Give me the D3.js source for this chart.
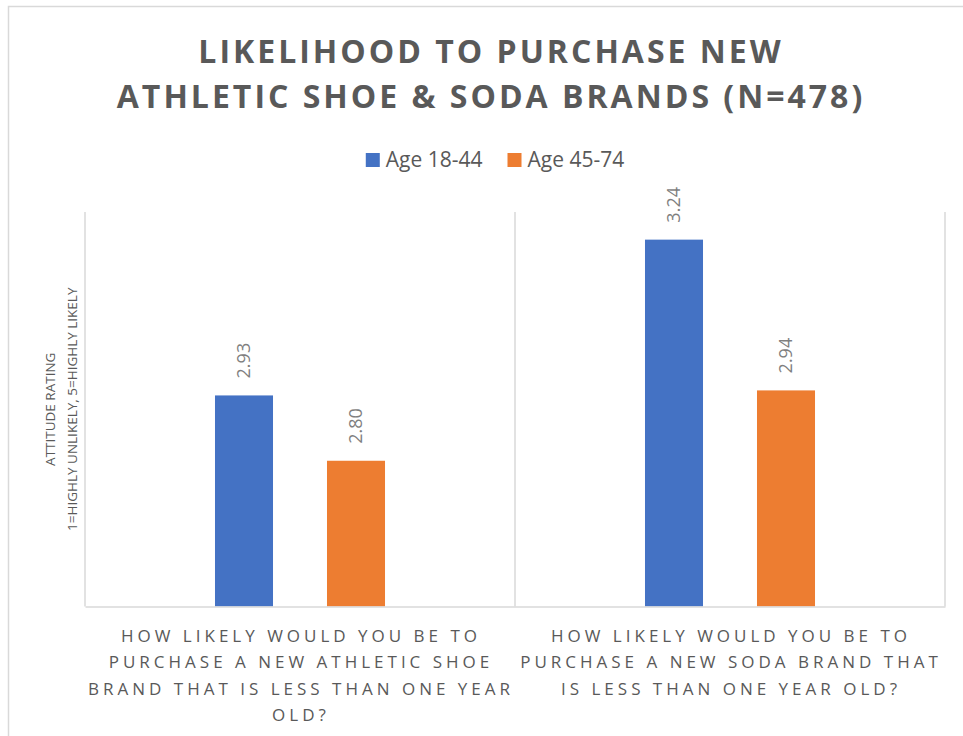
<!DOCTYPE html>
<html>
<head>
<meta charset="utf-8">
<script src="https://cdn.jsdelivr.net/npm/d3@7/dist/d3.min.js"></script>
<style>
  html, body { margin: 0; padding: 0; background: #ffffff; }
  svg { display: block; font-family: "Open Sans", "DejaVu Sans", sans-serif; }
</style>
</head>
<body>
<svg id="chart" width="963" height="736"></svg>
<script>
// ---- data ----
const titleLines = ["LIKELIHOOD TO PURCHASE NEW", "ATHLETIC SHOE & SODA BRANDS (N=478)"];
const seriesNames = ["Age 18-44", "Age 45-74"];
const seriesColors = ["#4472C4", "#ED7D31"];
const categories = [
  "How likely would you be to purchase a new athletic shoe brand that is less than one year old?",
  "How likely would you be to purchase a new soda brand that is less than one year old?"
];
const categoryLines = [
  ["HOW LIKELY WOULD YOU BE TO", "PURCHASE A NEW ATHLETIC SHOE", "BRAND THAT IS LESS THAN ONE YEAR", "OLD?"],
  ["HOW LIKELY WOULD YOU BE TO", "PURCHASE A NEW SODA BRAND THAT", "IS LESS THAN ONE YEAR OLD?"]
];
const age1844 = [2.93, 3.24];
const age4574 = [2.80, 2.94];
const yTitleLines = ["ATTITUDE RATING", "1=HIGHLY UNLIKELY, 5=HIGHLY LIKELY"];

// ---- layout ----
const svg = d3.select("#chart");
const plot = { left: 85, right: 945, top: 212, bottom: 606.5 };
const gridColor = "#d9d9d9";
const textDark = "#595959";

// chart frame
svg.append("rect")
  .attr("x", 8.5).attr("y", 6.5)
  .attr("width", 1100).attr("height", 900)
  .attr("fill", "#ffffff")
  .attr("stroke", gridColor).attr("stroke-width", 1.5);

// title
const title = svg.append("text")
  .attr("text-anchor", "middle")
  .attr("fill", textDark)
  .attr("font-weight", 700)
  .attr("font-size", 32)
  .attr("letter-spacing", 3);
title.selectAll("tspan").data(titleLines).join("tspan")
  .attr("x", 491)
  .attr("y", (d, i) => 62.5 + i * 45)
  .text(d => d);

// scales
const x = d3.scaleBand().domain(categories).range([plot.left, plot.right]);
const xInner = d3.scaleBand().domain(seriesNames)
  .range([x.bandwidth() * 0.3023, x.bandwidth() * 0.6977])
  .paddingInner(0.482);
const y = d3.scaleLinear().domain([2.51, 3.295]).range([plot.bottom, plot.top]);

const rows = categories.map((c, i) => ({
  category: c,
  values: [
    { series: seriesNames[0], value: age1844[i], color: seriesColors[0] },
    { series: seriesNames[1], value: age4574[i], color: seriesColors[1] }
  ]
}));

// vertical separators between categories
const sepX = categories.map(c => x(c)).concat([x.range()[1]]);
svg.append("g").selectAll("line").data(sepX).join("line")
  .attr("x1", d => d).attr("x2", d => d)
  .attr("y1", plot.top).attr("y2", plot.bottom)
  .attr("stroke", gridColor).attr("stroke-width", 1.5);

// bars
const groups = svg.append("g").selectAll("g").data(rows).join("g")
  .attr("transform", d => `translate(${x(d.category)},0)`);

groups.selectAll("rect").data(d => d.values).join("rect")
  .attr("x", d => xInner(d.series))
  .attr("width", xInner.bandwidth())
  .attr("y", d => y(d.value))
  .attr("height", d => y.range()[0] - y(d.value))
  .attr("fill", d => d.color);

// value labels (rotated)
groups.selectAll("text").data(d => d.values).join("text")
  .attr("transform", d => `translate(${xInner(d.series) + xInner.bandwidth() / 2},${y(d.value) - 17}) rotate(-90)`)
  .attr("dy", "0.35em")
  .attr("text-anchor", "start")
  .attr("font-size", 18)
  .attr("fill", "#7f7f7f")
  .text(d => d.value.toFixed(2));

// x axis
const xAxis = svg.append("g")
  .attr("transform", `translate(0,${plot.bottom})`)
  .call(d3.axisBottom(x).tickSize(0).tickPadding(0));
xAxis.select(".domain").attr("stroke", gridColor).attr("stroke-width", 1.5);
xAxis.selectAll(".tick text").remove();
xAxis.selectAll(".tick").each(function (d, i) {
  const t = d3.select(this).append("text")
    .attr("text-anchor", "middle")
    .attr("fill", textDark)
    .attr("font-size", 17)
    .attr("letter-spacing", 4)
    .attr("font-family", "'Open Sans', sans-serif");
  t.selectAll("tspan").data(categoryLines[i]).join("tspan")
    .attr("x", 1)
    .attr("y", (l, j) => 35 + j * 26.5)
    .text(l => l);
});

// y axis title
svg.append("g").selectAll("text").data(yTitleLines).join("text")
  .attr("transform", (d, i) => `translate(${55 + i * 21.5},${(plot.top + plot.bottom) / 2}) rotate(-90)`)
  .attr("text-anchor", "middle")
  .attr("font-size", 13.5)
  .attr("fill", textDark)
  .text(d => d);

// legend
const legend = svg.append("g");
const items = legend.selectAll("g").data(seriesNames).join("g");
items.append("rect")
  .attr("width", 14).attr("height", 14)
  .attr("y", 153)
  .attr("fill", (d, i) => seriesColors[i]);
items.append("text")
  .attr("x", 20)
  .attr("y", 167)
  .attr("font-size", 21)
  .attr("fill", textDark)
  .text(d => d);
const widths = [];
items.each(function () {
  widths.push(20 + d3.select(this).select("text").node().getComputedTextLength());
});
const gap = 25;
const total = d3.sum(widths) + gap * (widths.length - 1);
let cursor = 495 - total / 2;
items.each(function (d, i) {
  d3.select(this).attr("transform", `translate(${cursor},0)`);
  cursor += widths[i] + gap;
});
</script>
</body>
</html>
